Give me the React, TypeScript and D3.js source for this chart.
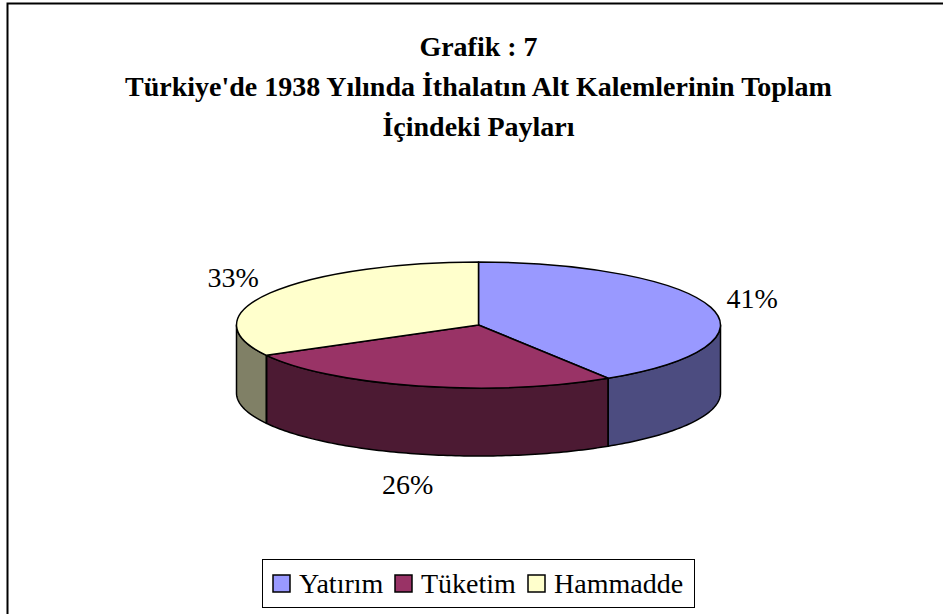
import React from "react";
import * as d3 from "d3";

const categories = ["Yatırım", "Tüketim", "Hammadde"];
const values = [41, 26, 33];
const topColors = ["#9999FF", "#993366", "#FFFFCC"];
const sideColors = ["#4C4C80", "#4C1A33", "#808066"];
const titleLines = ["Grafik : 7", "Türkiye'de 1938 Yılında İthalatın Alt Kalemlerinin Toplam", "İçindeki Payları"];

const W = 943;
const H = 614;
const cx = 478.5;
const cy = 325;
const rx = 242;
const ry = 63;
const depth = 68;

function pt(theta: number, dy = 0): [number, number] {
  return [cx + rx * Math.sin(theta), cy - ry * Math.cos(theta) + dy];
}

export default function App() {
  const pie = d3.pie<number>().sort(null).value((d) => d);
  const arcs = pie(values);
  const total = d3.sum(values);
  const line = d3.line();

  const sides: { d: string; color: string }[] = [];
  const edges: [number, number][][] = [];
  arcs.forEach((a, i) => {
    const lo = Math.max(a.startAngle, Math.PI / 2);
    const hi = Math.min(a.endAngle, (3 * Math.PI) / 2);
    if (hi <= lo) return;
    const n = Math.max(2, Math.ceil(((hi - lo) * 180) / Math.PI));
    const angs = d3.range(n + 1).map((k) => lo + ((hi - lo) * k) / n);
    const pts: [number, number][] = [
      ...angs.map((t) => pt(t)),
      ...angs.slice().reverse().map((t) => pt(t, depth)),
    ];
    sides.push({ d: line(pts) + "Z", color: sideColors[i] });
  });
  arcs.forEach((a) => {
    const t = a.startAngle;
    if (t > Math.PI / 2 && t < (3 * Math.PI) / 2) edges.push([pt(t), pt(t, depth)]);
  });

  const arcGen = d3.arc<d3.PieArcDatum<number>>().innerRadius(0).outerRadius(rx);
  const sy = ry / rx;

  const labels = arcs.map((a, i) => {
    const m = (a.startAngle + a.endAngle) / 2;
    const x = cx + 285 * Math.sin(m);
    let y = cy - 94 * Math.cos(m);
    if (Math.cos(m) < 0) y += depth;
    return { x, y, text: Math.round((values[i] / total) * 100) + "%" };
  });

  const legendX = [273, 395, 528];
  const font = "Times New Roman, Liberation Serif, DejaVu Serif, serif";

  return (
    <svg width={W} height={H} style={{ position: "absolute", left: 0, top: 0, background: "#fff" }}>
      <rect x={7.5} y={3.5} width={1200} height={1200} fill="#fff" stroke="#000" strokeWidth={2} />
      {titleLines.map((t, i) => (
        <text key={i} x={cx} y={56 + i * 40} textAnchor="middle" style={{ fontFamily: font, fontWeight: "bold", fontSize: "28px" }}>
          {t}
        </text>
      ))}
      {sides.map((s, i) => (
        <path key={i} d={s.d} fill={s.color} stroke="#000" strokeWidth={1.5} strokeLinejoin="round" />
      ))}
      {edges.map((e, i) => (
        <path key={i} d={line(e) || ""} stroke="#000" strokeWidth={1.5} />
      ))}
      <g transform={`translate(${cx},${cy}) scale(1,${sy})`}>
        {arcs.map((a, i) => (
          <path key={i} d={arcGen(a) || ""} fill={topColors[i]} stroke="#000" strokeWidth={1.5} vectorEffect="non-scaling-stroke" strokeLinejoin="round" />
        ))}
      </g>
      {labels.map((l, i) => (
        <text key={i} x={l.x} y={l.y} textAnchor="middle" dominantBaseline="central" style={{ fontFamily: font, fontSize: "28px" }}>
          {l.text}
        </text>
      ))}
      <rect x={262.5} y={559.5} width={432} height={48} fill="#fff" stroke="#000" strokeWidth={1} />
      {categories.map((c, i) => (
        <g key={c}>
          <rect x={legendX[i]} y={575} width={17} height={17} fill={topColors[i]} stroke="#000" strokeWidth={1.5} />
          <text x={legendX[i] + 26} y={593} style={{ fontFamily: font, fontSize: "28px" }}>
            {c}
          </text>
        </g>
      ))}
    </svg>
  );
}
